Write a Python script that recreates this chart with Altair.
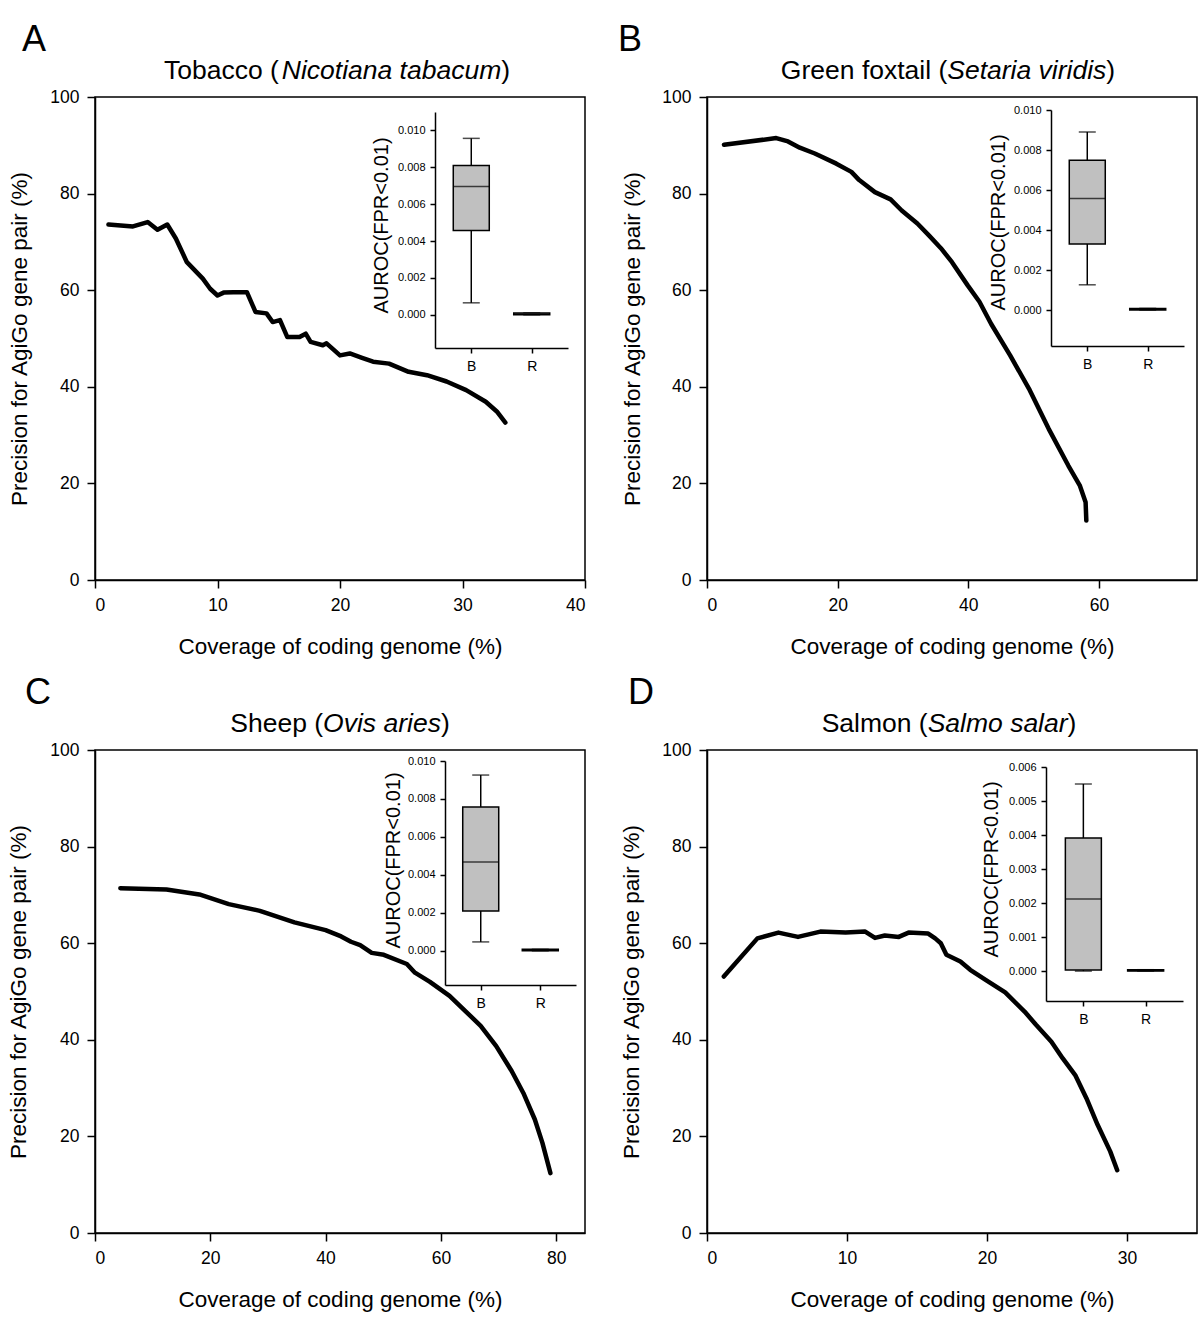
import altair as alt
import pandas as pd

FONT = "Liberation Sans"
W, H = 490, 483

# ---------------- data ----------------
# Panel A: Tobacco
a_cov = [1.1, 3.1, 4.3, 5.1, 5.9, 6.6, 7.5, 8.8, 9.4, 10.0, 10.5, 11.3, 12.4, 13.1, 14.0, 14.5,
         15.1, 15.7, 16.7, 17.2, 17.6, 18.6, 18.9, 20.0, 20.8, 21.8, 22.7, 24.0, 25.6, 27.1,
         28.7, 30.3, 31.9, 32.8, 33.5]
a_prec = [73.6, 73.2, 74.1, 72.5, 73.6, 70.7, 65.8, 62.4, 60.3, 58.9, 59.5, 59.6, 59.6, 55.5, 55.2, 53.4,
          53.8, 50.3, 50.3, 51.0, 49.3, 48.6, 49.0, 46.5, 46.9, 46.0, 45.2, 44.8, 43.1, 42.4,
          41.1, 39.3, 36.9, 34.9, 32.6]

# Panel B: Green foxtail
b_cov = [2.6, 10.6, 12.4, 14.2, 16.5, 19.8, 22.1, 23.3, 25.7, 28.1, 29.8, 32.2, 34.0, 35.8,
         37.5, 39.9, 41.7, 43.5, 46.4, 49.4, 52.3, 55.3, 57.05, 57.95, 58.06]
b_prec = [90.1, 91.5, 90.8, 89.5, 88.3, 86.2, 84.5, 82.8, 80.3, 78.8, 76.5, 73.8, 71.3, 68.7,
          65.8, 61.0, 57.6, 53.0, 46.5, 39.3, 31.3, 23.7, 19.6, 16.1, 12.3]

# Panel C: Sheep
c_cov = [4.4, 12.4, 18.1, 23.2, 28.6, 34.6, 40.0, 42.7, 44.4, 46.0, 48.0, 50.1, 54.1, 55.5,
         58.1, 61.5, 64.2, 66.9, 69.6, 72.3, 74.3, 76.3, 77.6, 79.0]
c_prec = [71.4, 71.1, 70.1, 68.1, 66.7, 64.3, 62.7, 61.4, 60.3, 59.6, 58.0, 57.6, 55.7, 53.9,
          52.0, 49.1, 46.0, 42.9, 38.7, 33.5, 29.0, 23.5, 18.7, 12.4]

# Panel D: Salmon
d_cov = [1.2, 3.6, 5.1, 6.5, 8.1, 9.9, 11.3, 12.0, 12.7, 13.7, 14.4, 15.8, 16.3, 16.7, 17.1,
         18.1, 18.8, 19.9, 21.3, 22.7, 23.5, 24.6, 25.4, 26.3, 27.1, 27.9, 28.8, 29.3]
d_prec = [53.1, 61.0, 62.2, 61.3, 62.4, 62.2, 62.4, 61.1, 61.6, 61.3, 62.2, 62.0, 61.0, 60.0, 57.6,
          56.2, 54.5, 52.4, 49.8, 45.8, 43.1, 39.6, 36.2, 32.7, 27.9, 22.4, 16.9, 13.0]

# Inset box plots (categories B, R)
box_cat = ["B", "R"]
a_lower, a_q1, a_med, a_q3, a_upper = [0.00065, 0.0], [0.00457, 0.0], [0.00696, 0.00005], [0.0081, 0.0001], [0.00957, 0.0001]
b_lower, b_q1, b_med, b_q3, b_upper = [0.00126, 0.0], [0.0033, 0.0], [0.00558, 0.00004], [0.00749, 0.00008], [0.0089, 0.00008]
c_lower, c_q1, c_med, c_q3, c_upper = [0.00047, 0.0], [0.0021, 0.0], [0.00468, 0.00004], [0.00758, 0.00008], [0.00926, 0.00008]
d_lower, d_q1, d_med, d_q3, d_upper = [0.0, 0.0], [0.00003, 0.0], [0.00212, 0.00002], [0.00391, 0.00004], [0.0055, 0.00004]

inset_ticks_01 = [0.000, 0.002, 0.004, 0.006, 0.008, 0.010]
inset_ticks_006 = [0.000, 0.001, 0.002, 0.003, 0.004, 0.005, 0.006]

# --------------- helpers ----------------
ARIAL = {" ": 278, "(": 333, ")": 333, "A": 667, "B": 667, "C": 722, "G": 778, "N": 722, "O": 778,
         "S": 667, "T": 611, "a": 556, "b": 556, "c": 500, "d": 556, "e": 556, "f": 278, "h": 556,
         "i": 222, "l": 222, "m": 833, "n": 556, "o": 556, "p": 556, "r": 333, "s": 500, "t": 278,
         "u": 556, "v": 500, "x": 500}


def tw(s, size):
    return sum(ARIAL.get(ch, 556) for ch in s) * size / 1000.0


TS = 26.5  # species title font size


def text_mark(s, x, y, size, style="normal", align="left"):
    return alt.Chart(pd.DataFrame({"t": [s]})).mark_text(
        align=align, baseline="alphabetic", font=FONT, fontSize=size,
        fontStyle=style, color="black").encode(text="t:N", x=alt.value(x), y=alt.value(y))


def panel(letter, letter_xy, name, latin, title_cx, cov, prec, xdom, xticks,
          lower, q1, med, q3, upper, ydom, yticks, xr, yr, ytx, yty, ytitle_x):
    line = alt.Chart(pd.DataFrame({"cov": cov, "prec": prec})).mark_line(
        color="black", strokeWidth=4.5, strokeJoin="round", strokeCap="round").encode(
        x=alt.X("cov:Q", scale=alt.Scale(domain=xdom, nice=False, zero=False),
                axis=alt.Axis(values=xticks, title="Coverage of coding genome (%)",
                              titleX=W / 2, titleY=66, titleBaseline="middle", titleAlign="center")),
        y=alt.Y("prec:Q", scale=alt.Scale(domain=[0, 100], nice=False),
                axis=alt.Axis(values=[0, 20, 40, 60, 80, 100], title="Precision for AgiGo gene pair (%)",
                              titleX=ytitle_x, titleY=H / 2, titleAngle=-90,
                              titleBaseline="middle", titleAlign="center")))

    p1 = name + " ("
    w1, w2, w3 = tw(p1, TS), tw(latin, TS), tw(")", TS)
    x0 = title_cx - (w1 + w2 + w3) / 2
    t1 = text_mark(p1, x0, -18, TS)
    t2 = text_mark(latin, x0 + w1, -18, TS, style="italic")
    t3 = text_mark(")", x0 + w1 + w2, -18, TS)
    lt = text_mark(letter, letter_xy[0], letter_xy[1], 36)

    df = pd.DataFrame({"cat": box_cat, "lower": lower, "q1": q1, "med": med, "q3": q3, "upper": upper})
    xenc = alt.X("cat:N", sort=box_cat,
                 scale=alt.Scale(type="point", range=xr, padding=0.6),
                 axis=alt.Axis(orient="bottom", offset=yr[0] - H, title=None, labelAngle=0,
                               labelFontSize=14, tickSize=5, labelPadding=6))
    yscale = alt.Scale(domain=ydom, range=yr, nice=False, zero=False)
    yaxis = alt.Axis(orient="left", offset=-xr[0], values=yticks, format=".3f",
                     title="AUROC(FPR<0.01)", titleFontSize=20, titleX=ytx, titleY=yty,
                     titleAngle=-90, titleBaseline="middle", titleAlign="center",
                     labelFontSize=11, tickSize=5, labelPadding=5)

    def Y(f):
        return alt.Y(f + ":Q", scale=yscale, axis=yaxis)

    base = alt.Chart(df).encode(x=xenc)
    wl = base.mark_rule(color="black", strokeWidth=1.5).encode(y=Y("lower"), y2="q1:Q")
    wh = base.mark_rule(color="black", strokeWidth=1.5).encode(y=Y("q3"), y2="upper:Q")
    cl = base.mark_tick(color="black", size=17, thickness=1.5).encode(y=Y("lower"))
    ch = base.mark_tick(color="black", size=17, thickness=1.5).encode(y=Y("upper"))
    bx = base.mark_bar(size=36, fill="#c0c0c0", stroke="black", strokeWidth=1.5).encode(y=Y("q1"), y2="q3:Q")
    md = base.mark_tick(color="black", size=36, thickness=1.5).encode(y=Y("med"))
    inset = alt.layer(wl, wh, cl, ch, bx, md)

    return alt.layer(alt.layer(line, t1, t2, t3, lt), inset).resolve_scale(
        x="independent", y="independent").properties(width=W, height=H)


pA = panel("A", (-73, -46), "Tobacco", "Nicotiana tabacum", 242, a_cov, a_prec, [0, 40], [0, 10, 20, 30, 40],
           a_lower, a_q1, a_med, a_q3, a_upper, [-0.0018, 0.011], inset_ticks_01,
           [340, 473], [251, 15], -54, 128, -76)
pB = panel("B", (-89, -46), "Green foxtail", "Setaria viridis", 241, b_cov, b_prec, [0, 75], [0, 20, 40, 60],
           b_lower, b_q1, b_med, b_q3, b_upper, [-0.0018, 0.010], inset_ticks_01,
           [344, 477], [249, 13], -53, 125, -75)
pC = panel("C", (-70, -46), "Sheep", "Ovis aries", 245, c_cov, c_prec, [0, 85], [0, 20, 40, 60, 80],
           c_lower, c_q1, c_med, c_q3, c_upper, [-0.0018, 0.010], inset_ticks_01,
           [350, 481], [235, 11], -52, 110, -77)
pD = panel("D", (-79, -46), "Salmon", "Salmo salar", 242, d_cov, d_prec, [0, 35], [0, 10, 20, 30],
           d_lower, d_q1, d_med, d_q3, d_upper, [-0.00088, 0.006], inset_ticks_006,
           [339, 476], [251, 17], -54.5, 119, -76)

chart = alt.concat(pA, pB, pC, pD, columns=2, spacing={"row": 15, "column": 30}).properties(
    padding={"left": 6, "top": 21, "right": 0, "bottom": 0}
).configure_view(stroke="black", strokeWidth=1.5).configure_axis(
    grid=False, domainColor="black", tickColor="black", labelColor="black", titleColor="black",
    labelFont=FONT, titleFont=FONT, titleFontWeight="normal", domainWidth=1.5, tickWidth=1.5,
    labelFontSize=17.5, titleFontSize=22.5, tickSize=8, labelPadding=8
)

chart.save("out.html", embed_options={"renderer": "svg", "actions": False})
